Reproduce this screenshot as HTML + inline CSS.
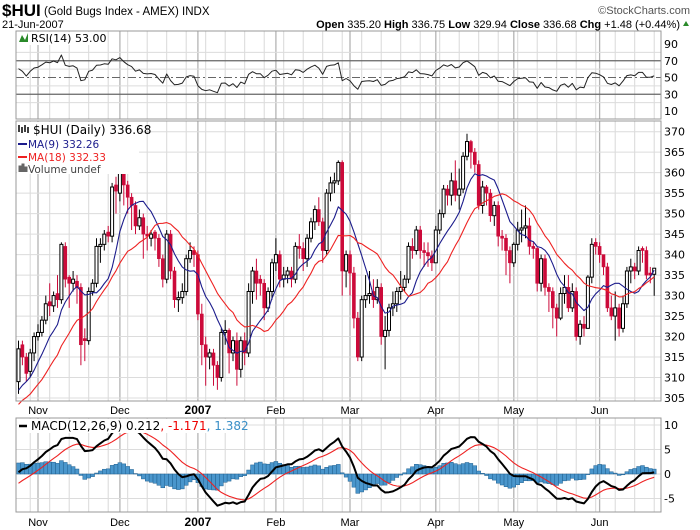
<!DOCTYPE html>
<html><head><meta charset="utf-8"><style>
body{margin:0;background:#fff;}
svg{display:block;font-family:"DejaVu Sans","Liberation Sans",sans-serif;}
</style></head><body>
<svg id="chart" width="700" height="530" viewBox="0 0 700 530" xmlns="http://www.w3.org/2000/svg">
<text x="2" y="16" font-family="Liberation Sans, sans-serif" font-size="17" font-weight="bold">$HUI</text>
<text x="44" y="15" font-family="Liberation Sans, sans-serif" font-size="11.5">(Gold Bugs Index - AMEX) INDX</text>
<text x="690" y="14" text-anchor="end" font-family="Liberation Sans, sans-serif" font-size="11" fill="#555">©StockCharts.com</text>
<text x="2" y="28" font-family="Liberation Sans, sans-serif" font-size="11">21-Jun-2007</text>
<text x="680" y="28" text-anchor="end" font-family="Liberation Sans, sans-serif" font-size="11"><tspan font-weight="bold">Open</tspan> 335.20 <tspan font-weight="bold">High</tspan> 336.75 <tspan font-weight="bold">Low</tspan> 329.94 <tspan font-weight="bold">Close</tspan> 336.68 <tspan font-weight="bold">Chg</tspan> +1.48 (+0.44%)</text>
<polygon points="683,26 689,26 686,21" fill="#2a8a2a"/>
<g id="g"></g>
</svg>
<script>
const priorCloses=[330,327,325,322,318,315,312,309,305,302,300,297,295,293,296,298,296,294,297,299,301,298,300,303,301,299,302,304,303,306,305,303,307,309,308];
const closes=[317,315,311,316,320,321,324,328,327.5,330,329,342.5,334,333,334,332,318,319,331,333,342,342.5,345,344.5,356.5,355.5,361,357,354,352,347,349,345,344.5,345,344,339,334,345,336,329,329.5,331,339,341,340,325.5,318,315,316,313,310,321,321.5,316,319,312,319,316,331,336,333,333,327,331,338,340,334,335,336,334,342,341.5,339,344,348,351,348,341,355,357.5,358,362.5,336,340,335.5,324.5,315,329,330,330.5,329,332,320,321.5,327,328,331,332,334,342,341,346,341,340.5,339.7,338,346,350,356,354.5,358,354.5,356,364,367.6,365,362,352,356.5,355,349.5,352,344.5,344,341,338,342.5,346,346.5,347,342,341.5,333,339,332,331,327,324.5,330.5,332,327,331,320,323,322,334.5,342.5,342,340,337,327,325,327,322,328,336,337,336,341,341,335,335,336.68];
const opens=[309,318,315,311.5,316,320,321,324,328.5,327.5,330.5,329,342,334.5,333,333.5,332,319.5,319,331,333,342,342.5,345.5,344.5,357,355,361.5,357,354,352,347,349,345,344,345.5,344,339,334,345,336,329,329.5,331,339,341,340,325.5,318,315,316,313,310,321,321.5,316,319,312,319,316,331,336,334,333,327,331,338,340,334,335,336,334,342,341.5,339,344,348,351,348,341,355,357.5,358,362.5,336,340,335.5,324.5,315,329,330,331,329,332,320,321.5,327,328,331,332,334,342,341,346,341,340.5,339.7,338,346,350,356,354.5,358,354.5,356,364,367.6,365,362,352,356.5,355,349.5,352,344.5,344,341,338,342.5,346,346.5,347,342,341.5,333,339,332,331,327,324.5,330.5,332,327,331,320,323,322,334.5,343,342,340,337,327,325,327,322,328,336,337,336,341.5,341,335.5,335.2];
const highs=[319,319,316,317,321,323,325,330,333,331,335,343,343,335,336,335,333,322,332,334,344,344,346,347,357.5,359,362.5,362,358,355,353,351,350,347,346,346,345,340,346,346,337,331,333,340,343,342,341,328,320,317,317,314,322,324,322,320,321,320,321,333,337,339,335,334,332,339,344,341,337,337,337,343,345,343,345,349,352,354,349,356,359,360,363,363,341,341,337,326,330,335,336,334,334,333,325,328,331,332,336,335,343,344,347,347,343,343,341,347,351,357,357,360,363,361,365,369.5,368,366,363,358,357,356,353,353,346,345,342,343,348,351,352,349,343,342,340,340,333,332,328,332,335,335,333,332,324,325,335,344,344,343,339,338,330,331,328,330,337,339,338,342,342,342,337,336.75];
const lows=[306,313,309,310,314,319,320,323,325,326,327,328,332,327,331,328,313,314,318,330,332,338,341,343,343,350,353,352,350,346,345,346,339,341,342,341,337,332,333,334,327,326,328,330,338,337,324,313,308,312,308,307,309,318,311,314,308,310,313,315,328,329,330,324,326,329,336,332,332,333,332,333,339,336,337,343,346,347,338,340,353,355,357,330,332,330,322,314,314,327,328,327,328,318,312,320,325,326,329,331,333,339,340,339,337,337,336,338,345,349,352,352,353,351,355,363,361,360,351,350,352,348,347,342,341,335,333,337,341,343,344,340,339,331,331,330,326,322,320,324,328,326,326,319,318,320,322,333,340,338,335,326,324,319,320,321,327,333,334,335,338,334,333,329.94];
const monthLabels=["Nov","Dec","2007","Feb","Mar","Apr","May","Jun"];
const monthStarts=[5,26,46,66,85,107,127,149];
const priceTicks=[305,310,315,320,325,330,335,340,345,350,355,360,365,370];
const rsiTicks=[10,30,50,70,90];
const macdTicks=[-5,0,5,10];

const NS="http://www.w3.org/2000/svg";
const G=document.getElementById('g');
function el(t,a,p){const e=document.createElementNS(NS,t);for(const k in a)e.setAttribute(k,a[k]);(p||G).appendChild(e);return e;}
const L=16,R=661;
const xi=i=>18.5+i*3.9;
const yP=p=>131.7+(370-p)*4.097;
const yR=v=>44+(90-v)*0.8375;
const yM=v=>474-v*4.9;
const N=closes.length;

// indicators
const all=priorCloses.concat(closes), P=priorCloses.length;
function sma(n,i){let s=0;for(let k=0;k<n;k++)s+=all[P+i-k];return s/n;}
function ema(n){const a=2/(n+1);const out=[];let e=all[0];for(let k=0;k<all.length;k++){e=k?e+a*(all[k]-e):all[k];out.push(e);}return out;}
const e12=ema(12),e26=ema(26);
const macdAll=e12.map((v,k)=>v-e26[k]);
const sigAll=[];{let s=macdAll[0];const a=0.2;for(let k=0;k<macdAll.length;k++){s=k?s+a*(macdAll[k]-s):macdAll[k];sigAll.push(s);}}
const rsiAll=[];{let ag=0,al=0;for(let k=1;k<all.length;k++){const d=all[k]-all[k-1];const gn=Math.max(d,0),ls=Math.max(-d,0);if(k<=14){ag+=gn/14;al+=ls/14;}else{ag=(ag*13+gn)/14;al=(al*13+ls)/14;}rsiAll[k]=al===0?100:100-100/(1+ag/al);}}

// panels
function panel(y0,y1,name){
  const g=el('g',{});
  
  
  el('rect',{x:L,y:y0,width:R-L,height:y1-y0,fill:'#fff',stroke:'none'},g);
  for(let i=3;i<N;i+=5){if(monthStarts.includes(i))continue;const l=el('line',{x1:xi(i),x2:xi(i),y1:y0,y2:y1,stroke:'#d8d8d8','stroke-width':1},g);}
  monthStarts.forEach(m=>{const l=el('line',{x1:xi(m),x2:xi(m),y1:y0,y2:y1,stroke:'#b4b4b4','stroke-width':1.3},g);});
  return g;
}
function frame(y0,y1,name){const r=el('rect',{x:L,y:y0,width:R-L,height:y1-y0,fill:'none',stroke:'#999','stroke-width':1});}
function line(pts,color,w,name){const p=el('polyline',{points:pts.map(q=>q[0].toFixed(1)+','+q[1].toFixed(1)).join(' '),fill:'none',stroke:color,'stroke-width':w,'stroke-linejoin':'round'});return p;}
function txt(x,y,s,attrs,name){const t=el('text',Object.assign({x:x,y:y,'font-size':11},attrs||{}));t.textContent=s;return t;}

// RSI panel
const rs0=31,rs1=119;
const rg=panel(rs0,rs1,'rsi-panel');
[20,40,60,80].forEach(v=>el('line',{x1:L,x2:R,y1:yR(v),y2:yR(v),stroke:'#dcdcdc'},rg));
[30,70].forEach(v=>{const l=el('line',{x1:L,x2:R,y1:yR(v),y2:yR(v),stroke:'#666','stroke-width':1.2});});
{const l=el('line',{x1:L,x2:R,y1:yR(50),y2:yR(50),stroke:'#666','stroke-dasharray':'8,3,2,3'});}
line(closes.map((c,i)=>[xi(i),yR(rsiAll[P+i])]),'#222',1,'rsi-line');
frame(rs0,rs1,'rsi-frame');
rsiTicks.forEach(v=>txt(664,yR(v)+4,String(v),{},'rsi-tick-label'));
el('rect',{x:L+1,y:rs0+1,width:90,height:13,fill:'#fff'});
txt(31,rs0+11,'RSI(14) 53.00',{},'rsi-legend');
el('path',{d:'M19,42 L22,35 L25,40 L28,33 L28,42 Z',fill:'#2a8a2a'});

// Main panel
const m0=121,m1=401;
const mg=panel(m0,m1,'price-panel');
priceTicks.forEach(v=>{el('line',{x1:L,x2:R,y1:yP(v),y2:yP(v),stroke:'#dcdcdc'},mg);});
for(let i=0;i<N;i++){
  const x=xi(i),up=closes[i]>=opens[i];
  const col=up?'#000':'#cc0a3a';
  const w=el('line',{x1:x,x2:x,y1:yP(highs[i]),y2:yP(lows[i]),stroke:col,'stroke-width':1});
  
  
  const top=yP(Math.max(opens[i],closes[i])),bot=yP(Math.min(opens[i],closes[i]));
  const b=el('rect',{x:x-1.5,y:top,width:3,height:Math.max(bot-top,1),fill:up?'#fff':col,stroke:col,'stroke-width':up?1:0.6});
  
  
}
const ma9=[],ma18=[];
for(let i=0;i<N;i++){ma9.push([xi(i),yP(sma(9,i))]);ma18.push([xi(i),yP(sma(18,i))]);}
line(ma9,'#1c1c8c',1.1,'ma9-line');
line(ma18,'#ee2222',1.1,'ma18-line');
el('rect',{x:0,y:m1+1,width:L-1,height:16,fill:'#fff'});
el('rect',{x:0,y:m0,width:L,height:m1-m0,fill:'#fff'});
frame(m0,m1,'price-frame');
priceTicks.forEach(v=>txt(664,yP(v)+4,String(v),{},'price-tick-label'));
el('rect',{x:L+1,y:m0+1,width:122,height:52,fill:'#fff'});
txt(33,m0+13,'$HUI (Daily) 336.68',{'font-size':12},'price-legend');
el('path',{d:'M19,'+(m0+11)+' l0,-7 m3,2 l0,6 m3,-8 l0,7 m3,-5 l0,6',stroke:'#000','stroke-width':1.5});
el('line',{x1:18,x2:27,y1:m0+23,y2:m0+23,stroke:'#1c1c8c','stroke-width':2});
txt(28,m0+27,'MA(9) 332.26',{fill:'#1c1c8c','font-size':10.5},'ma9-legend');
el('line',{x1:18,x2:27,y1:m0+36,y2:m0+36,stroke:'#e22','stroke-width':2});
txt(28,m0+40,'MA(18) 332.33',{fill:'#e22','font-size':10.5},'ma18-legend');
el('path',{d:'M19,'+(m0+51)+' v-6 h2 v6 M22,'+(m0+51)+' v-8 h2 v8 M25,'+(m0+51)+' v-5 h2 v5',fill:'#666',stroke:'#666'});
txt(28,m0+52,'Volume undef',{fill:'#444','font-size':10.5},'volume-legend');

// Month labels
function monthAxis(y,name){monthLabels.forEach((s,k)=>{const t=txt(xi(monthStarts[k]),y,s,{'text-anchor':'middle','font-family':'Liberation Sans, sans-serif','font-size':s==='2007'?12:11,'font-weight':s==='2007'?'bold':'normal'},name);});}
monthAxis(414,'x-axis-label');

// MACD panel
const c0=418,c1=512;
const cg=panel(c0,c1,'macd-panel');
macdTicks.forEach(v=>el('line',{x1:L,x2:R,y1:yM(v),y2:yM(v),stroke:'#dcdcdc'},cg));
for(let i=0;i<N;i++){
  const h=macdAll[P+i]-sigAll[P+i];
  const y=Math.min(yM(0),yM(h)),hh=Math.abs(yM(h)-yM(0));
  const b=el('rect',{x:xi(i)-1.95,y:y,width:3.9,height:Math.max(hh,0.5),fill:'#4a96cc',stroke:'#1f5f8f','stroke-width':0.5});
  
  
}
line(closes.map((c,i)=>[xi(i),yM(sigAll[P+i])]),'#ee2222',1.1,'macd-signal-line');
line(closes.map((c,i)=>[xi(i),yM(macdAll[P+i])]),'#000',2,'macd-line');
el('rect',{x:0,y:c0,width:L,height:c1-c0,fill:'#fff'});
frame(c0,c1,'macd-frame');
macdTicks.forEach(v=>txt(664,yM(v)+4,String(v),{},'macd-tick-label'));
el('rect',{x:L+1,y:c0+1,width:222,height:14,fill:'#fff'});
el('line',{x1:19,x2:27,y1:c0+8,y2:c0+8,stroke:'#000','stroke-width':2.5});
{const t=txt(31,c0+12,'',{'font-size':12},'macd-legend');
 const a=document.createElementNS(NS,'tspan');a.textContent='MACD(12,26,9) 0.212';t.appendChild(a);
 const b=document.createElementNS(NS,'tspan');b.setAttribute('fill','#e00');b.textContent=', -1.171';t.appendChild(b);
 const c=document.createElementNS(NS,'tspan');c.setAttribute('fill','#3a8fc7');c.textContent=', 1.382';t.appendChild(c);}
monthAxis(526,'x-axis-label-bottom');
</script>
</body></html>
